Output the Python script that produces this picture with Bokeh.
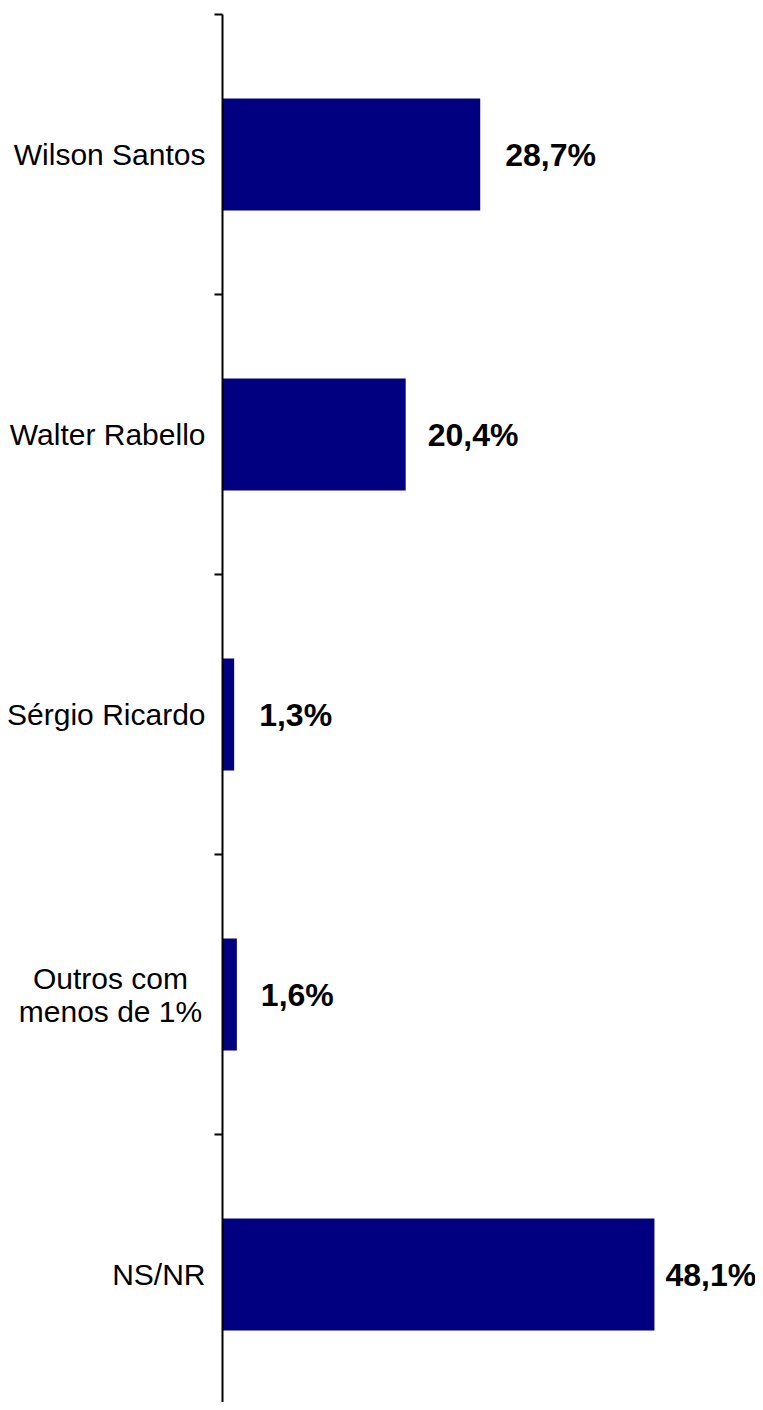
from bokeh.plotting import figure
from bokeh.models import Range1d, ColumnDataSource
from bokeh.core.properties import value
from bokeh.embed import file_html
from bokeh.resources import INLINE

categories = ["Wilson Santos", "Walter Rabello", "Sérgio Ricardo", "Outros com\nmenos de 1%", "NS/NR"]
values = [28.7, 20.4, 1.3, 1.6, 48.1]
value_labels = ["28,7%", "20,4%", "1,3%", "1,6%", "48,1%"]
label_gap_px = [25, 22, 25, 24, 11]

W, H = 755, 1402
PX = 8.98          # pixels per percent
AX = 222           # axis position inside frame (px)
TOP = 14
BAND = 280
x_start = -AX / PX
x_end = (W - AX) / PX
y_top = -TOP / BAND
y_bot = (H - TOP) / BAND

pos = [i + 0.5 for i in range(len(categories))]
src = ColumnDataSource(dict(y=pos, v=values, cat=categories, lab=value_labels, gap=label_gap_px))

p = figure(width=W, height=H, x_range=Range1d(x_start, x_end), y_range=Range1d(y_bot, y_top),
           output_backend="svg", toolbar_location=None, min_border=0,
           x_axis_location=None, y_axis_location=None)
p.grid.visible = False
p.outline_line_color = None
p.background_fill_color = "white"

p.hbar(y="y", left=0, right="v", height=0.4, source=src, fill_color="#000080", line_color=None)

# axis line and ticks at band boundaries
p.segment(x0=0, y0=0, x1=0, y1=y_bot, line_color="black", line_width=2)
tick_y = list(range(len(categories)))
p.segment(x0=[-8 / PX] * len(tick_y), y0=tick_y, x1=[0] * len(tick_y), y1=tick_y,
          line_color="black", line_width=2)

# category labels
single = [i for i, c in enumerate(categories) if "\n" not in c]
multi = [i for i, c in enumerate(categories) if "\n" in c]
p.text(x=[-17 / PX] * len(single), y=[pos[i] for i in single], text=[categories[i] for i in single],
       text_align="right", text_baseline="middle", text_font=value("Liberation Sans"),
       text_font_size="30px", text_color="black")
p.text(x=[-112 / PX] * len(multi), y=[pos[i] for i in multi], text=[categories[i] for i in multi],
       text_align="center", text_baseline="middle", text_font=value("Liberation Sans"),
       text_font_size="30px", text_color="black", text_line_height=1.0)

# value labels
p.text(x="v", y="y", text="lab", x_offset="gap", source=src, text_align="left", text_baseline="middle",
       text_font=value("Liberation Sans"), text_font_style="bold", text_font_size="32px", text_color="black")

open("out.html", "w").write(file_html(p, INLINE))
